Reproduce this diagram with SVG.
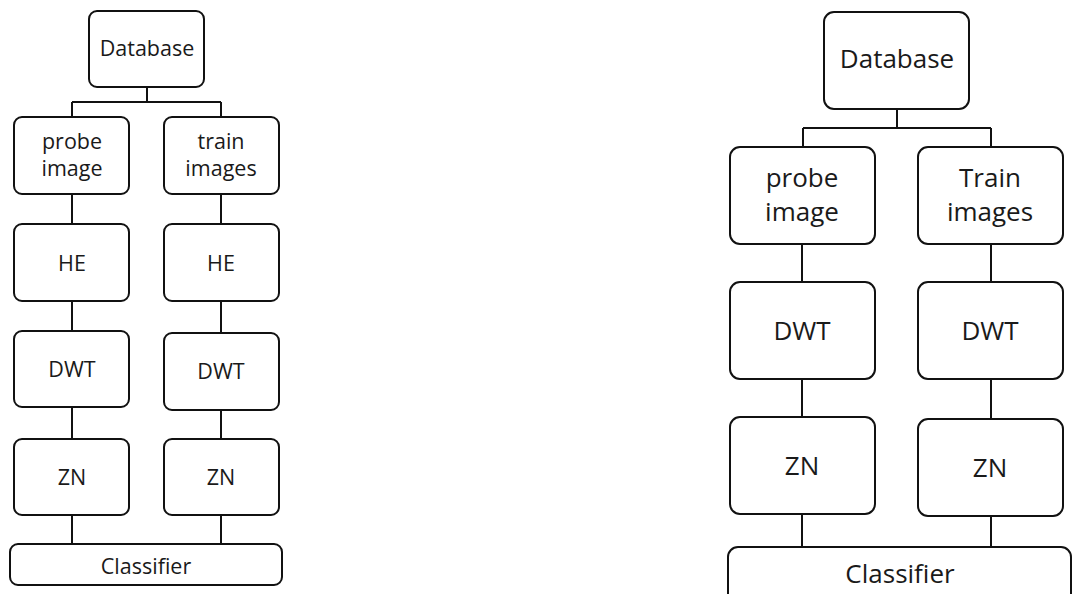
<svg xmlns="http://www.w3.org/2000/svg" width="1072" height="594" viewBox="0 0 1072 594">
<style>
.box{fill:#fff;stroke:#111;stroke-width:2}
.ln{fill:none;stroke:#111;stroke-width:2}
.t{font-family:"Open Sans","Noto Sans",sans-serif;fill:#1a1a1a;text-anchor:middle}
.s{font-size:21.5px}
.b{font-size:26px}
</style>
<rect width="1072" height="594" fill="#fff"/>
<g id="connectors">
<path class="ln" d="M147 87V102M72 102H221M72 102V117M221 102V117M72 194V224M221 194V224M72 301V331M221 301V333M72 407V439M221 410V439M72 515V544M221 515V544"/>
<path class="ln" d="M897 109V128M803 128H991M803 128V147M991 128V147M802 244V282M991 244V282M802 379V417M991 379V419M802 514V547M991 516V547"/>
</g>
<g id="l-database"><rect class="box" x="89" y="11" width="115" height="76" rx="8"/><text class="t s" x="147" y="56">Database</text></g>
<g id="l-probe"><rect class="box" x="14" y="117" width="115" height="77" rx="8"/><text class="t s" x="72" y="149">probe</text><text class="t s" x="72" y="176">image</text></g>
<g id="l-train"><rect class="box" x="164" y="117" width="115" height="77" rx="8"/><text class="t s" x="221" y="149">train</text><text class="t s" x="221" y="176">images</text></g>
<g id="l-he1"><rect class="box" x="14" y="224" width="115" height="77" rx="8"/><text class="t s" x="72" y="271">HE</text></g>
<g id="l-he2"><rect class="box" x="164" y="224" width="115" height="77" rx="8"/><text class="t s" x="221" y="271">HE</text></g>
<g id="l-dwt1"><rect class="box" x="14" y="331" width="115" height="76" rx="8"/><text class="t s" x="72" y="377">DWT</text></g>
<g id="l-dwt2"><rect class="box" x="164" y="333" width="115" height="77" rx="8"/><text class="t s" x="221" y="379">DWT</text></g>
<g id="l-zn1"><rect class="box" x="14" y="439" width="115" height="76" rx="8"/><text class="t s" x="72" y="485">ZN</text></g>
<g id="l-zn2"><rect class="box" x="164" y="439" width="115" height="76" rx="8"/><text class="t s" x="221" y="485">ZN</text></g>
<g id="l-classifier"><rect class="box" x="10" y="544" width="272" height="41" rx="8"/><text class="t s" x="146" y="574">Classifier</text></g>
<g id="r-database"><rect class="box" x="824" y="12" width="145" height="97" rx="10"/><text class="t b" x="897" y="68">Database</text></g>
<g id="r-probe"><rect class="box" x="730" y="147" width="145" height="97" rx="10"/><text class="t b" x="802" y="187">probe</text><text class="t b" x="802" y="221">image</text></g>
<g id="r-train"><rect class="box" x="918" y="147" width="145" height="97" rx="10"/><text class="t b" x="990" y="187">Train</text><text class="t b" x="990" y="221">images</text></g>
<g id="r-dwt1"><rect class="box" x="730" y="282" width="145" height="97" rx="10"/><text class="t b" x="802" y="340">DWT</text></g>
<g id="r-dwt2"><rect class="box" x="918" y="282" width="145" height="97" rx="10"/><text class="t b" x="990" y="340">DWT</text></g>
<g id="r-zn1"><rect class="box" x="730" y="417" width="145" height="97" rx="10"/><text class="t b" x="802" y="475">ZN</text></g>
<g id="r-zn2"><rect class="box" x="918" y="419" width="145" height="97" rx="10"/><text class="t b" x="990" y="477">ZN</text></g>
<g id="r-classifier"><rect class="box" x="728" y="547" width="343" height="60" rx="10"/><text class="t b" x="900" y="583">Classifier</text></g>
</svg>
